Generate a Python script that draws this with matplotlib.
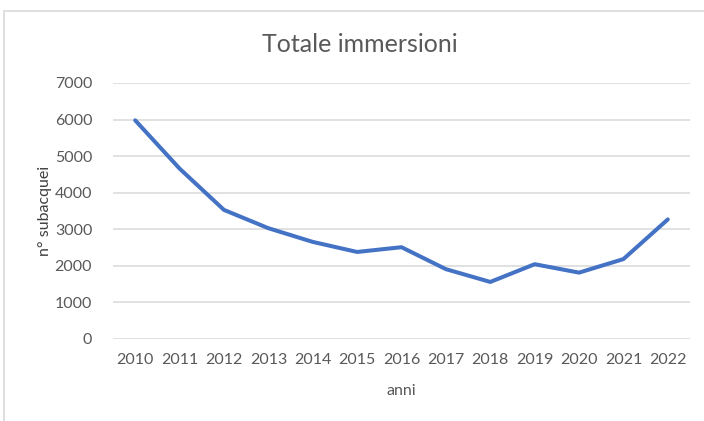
import matplotlib.pyplot as plt
from matplotlib.patches import Rectangle

# Dati
anni = ["2010", "2011", "2012", "2013", "2014", "2015", "2016",
        "2017", "2018", "2019", "2020", "2021", "2022"]
subacquei = [5980, 4660, 3530, 3030, 2655, 2380, 2510,
             1910, 1560, 2045, 1815, 2185, 3270]
yticks = [0, 1000, 2000, 3000, 4000, 5000, 6000, 7000]

plt.rcParams["font.family"] = ["Lato", "DejaVu Sans"]
grigio = "#595959"

fig = plt.figure(figsize=(7.04, 4.21), dpi=100)
ax = fig.add_axes([113 / 704, 1 - 339 / 421, 577 / 704, 256 / 421])

# bordo dell'area grafico
fig.patches.append(Rectangle((4 / 704, -0.1), 1.1, 1 - 11 / 421 + 0.1,
                             transform=fig.transFigure, fill=False,
                             edgecolor="#d9d9d9", linewidth=1.2))

x = list(range(len(anni)))
ax.plot(x, subacquei, color="#4472C4", linewidth=2.9,
        solid_capstyle="round", solid_joinstyle="round", zorder=3)

ax.set_xlim(-0.5, len(anni) - 0.5)
ax.set_ylim(0, 7000)
ax.set_yticks(yticks)
ax.set_xticks(x)
ax.set_xticklabels(anni)
ax.grid(axis="y", color="#d9d9d9", linewidth=1.1)
ax.set_axisbelow(True)
for s in ax.spines.values():
    s.set_visible(False)
ax.tick_params(length=0, labelsize=11.5, labelcolor=grigio)
ax.tick_params(axis="y", pad=15)
ax.tick_params(axis="x", pad=10)

fig.text(360 / 704, 1 - 45 / 421, "Totale immersioni", ha="center",
         va="center", fontsize=18, color=grigio)
fig.text(45 / 704, 1 - 211 / 421, "n° subacquei", ha="center", va="center",
         rotation=90, fontsize=11.5, color="#404040")
fig.text(401 / 704, 1 - 391 / 421, "anni", ha="center", va="center",
         fontsize=11.5, color=grigio)

fig.savefig("out.png", dpi=100)
